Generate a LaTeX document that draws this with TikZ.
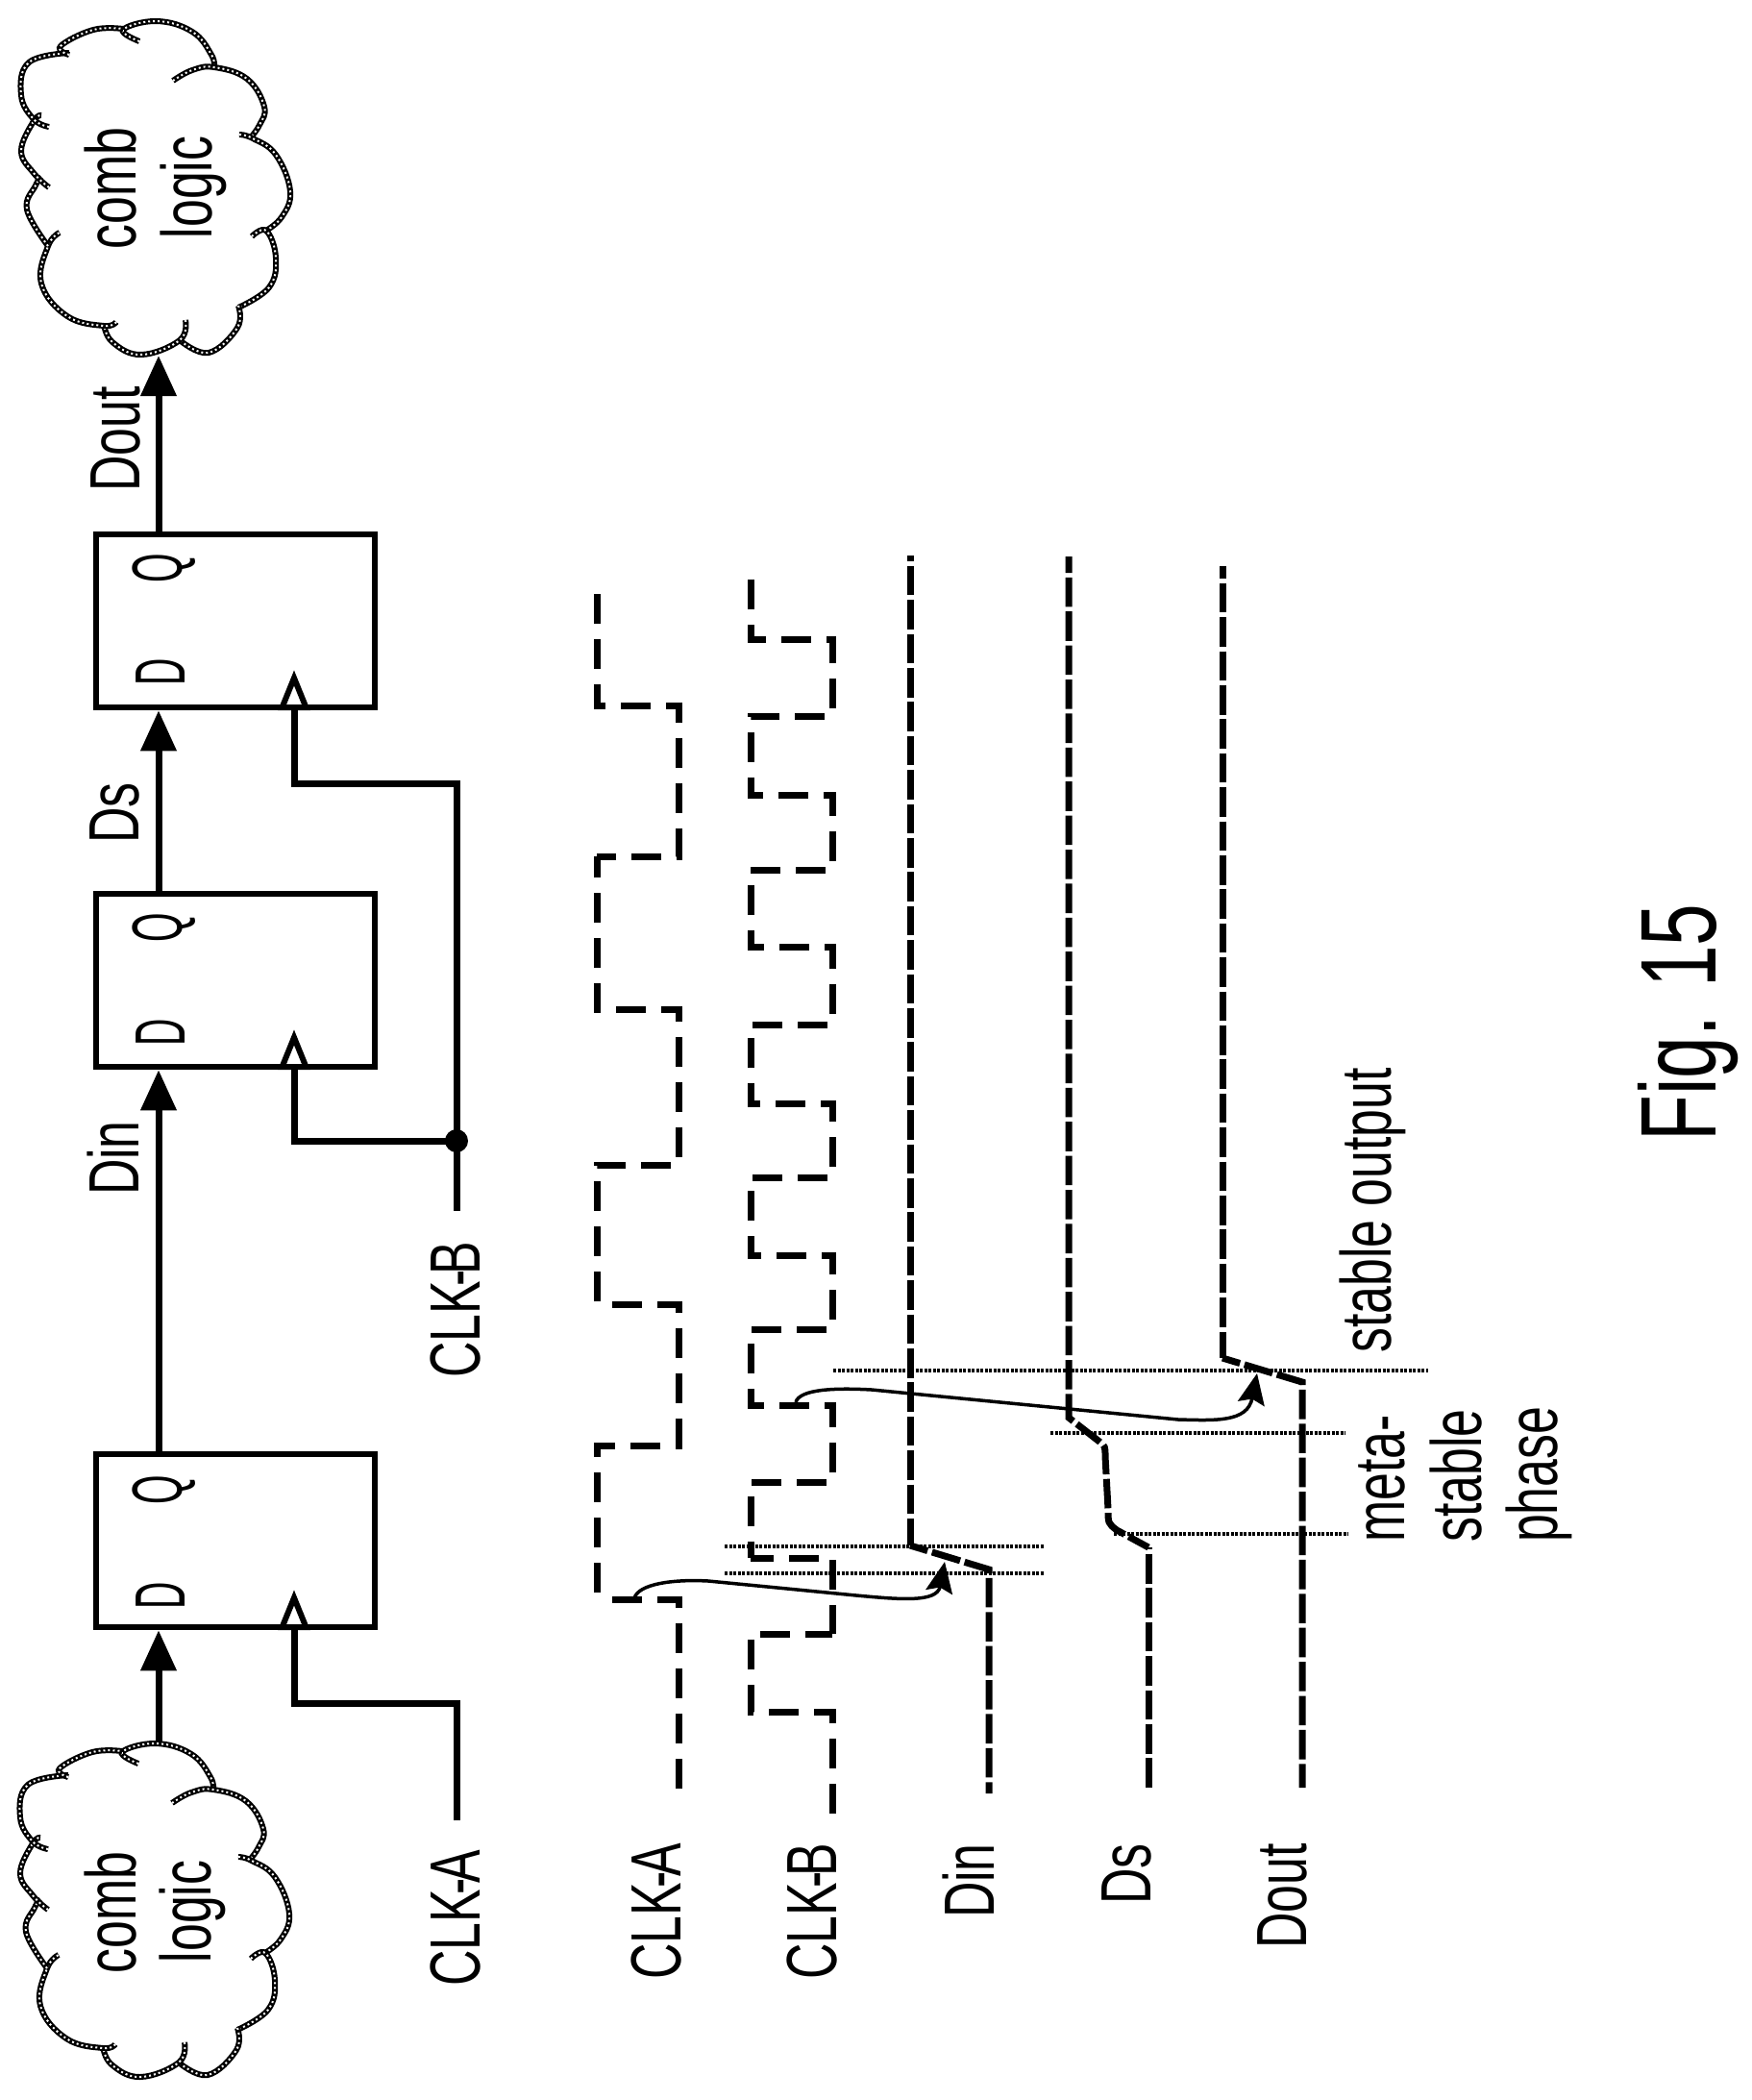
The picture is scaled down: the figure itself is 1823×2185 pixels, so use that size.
\documentclass[tikz,border=0pt]{standalone}
\usepackage{fontspec}
\setmainfont[FakeStretch=0.70]{Liberation Sans}
\newfontfamily\narrowfont[FakeStretch=0.53]{Liberation Sans}
\usetikzlibrary{arrows.meta}
\newcommand{\lblsize}{\fontsize{74}{88}\selectfont}
\newcommand{\clkname}[1]{CLK\kern-6pt-\kern-5pt #1}
\tikzset{
  ffbox/.style={draw,line width=6.5pt,minimum width=290pt,minimum height=180pt,inner sep=0pt},
  lbl/.style={rotate=90,inner sep=0pt,font=\lblsize},
  pinlbl/.style={rotate=90,inner sep=0pt,anchor=base,font=\narrowfont\lblsize},
  datawire/.style={line width=7pt,-{Triangle[length=42pt,width=36pt]}},
  clkwire/.style={line width=7pt,miter limit=10},
  clktip/.style={line width=6pt,-{Triangle[open,fill=white,length=42pt,width=32pt]}},
  clkwave/.style={line width=7pt,dash pattern=on 31pt off 16pt},
  datawave/.style={line width=7pt,dash pattern=on 30.6pt off 4.8pt},
  dotline/.style={line width=4pt,dash pattern=on 3pt off 1.5pt},
  causal/.style={line width=3.5pt,-{Stealth[length=32pt,width=28pt,inset=5pt]}},
  cloudline/.style={draw=black,line width=6pt,postaction={draw=white,line width=2pt,dash pattern=on 2pt off 3pt}}
}
\newcommand{\cloudarcs}{%
  \path[cloudline] plot[smooth,tension=0.7] coordinates {(145,43)(128,31)(163,22)(200,33)(220,57)(223,71)};
  \path[cloudline] plot[smooth,tension=0.7] coordinates {(180,84)(200,73)(223,70)(257,82)(275,111)(270,130)(260,144)};
  \path[cloudline] plot[smooth,tension=0.7] coordinates {(249,140)(263,144)(287,161)(302,199)(293,226)(275,241)};
  \path[cloudline] plot[smooth,tension=0.7] coordinates {(262,246)(277,240)(287,268)(280,299)(248,320)};
  \path[cloudline] plot[smooth,tension=0.7] coordinates {(248,318)(247,341)(217,367)(187,354)};
  \path[cloudline] plot[smooth,tension=0.7] coordinates {(193,333)(187,354)(147,369)(117,356)(108,337)};
  \path[cloudline] plot[smooth,tension=0.7] coordinates {(121,335)(108,339)(70,329)(43,295)(50,256)(62,242)};
  \path[cloudline] plot[smooth,tension=0.7] coordinates {(50,256)(28,218)(37,193)(43,184)};
  \path[cloudline] plot[smooth,tension=0.7] coordinates {(51,195)(35,180)(22,157)(35,126)(43,120)};
  \path[cloudline] plot[smooth,tension=0.7] coordinates {(51,132)(35,124)(22,99)(30,65)(72,55)};
  \path[cloudline] plot[smooth,tension=0.7] coordinates {(72,57)(63,48)(97,31)(128,30)};
}
\begin{document}
\begin{tikzpicture}[x=1pt,y=-1pt]
\useasboundingbox (0,0) rectangle (1823,2185);
% clouds
\cloudarcs
\begin{scope}[shift={(-1,1792)}]
\cloudarcs
\end{scope}
\node[lbl,anchor=base] (combT) at (141,196) {comb};
\node[lbl,anchor=base] (logicT) at (220,195) {logic};
\node[lbl,anchor=base] (combB) at (141,1990) {comb};
\node[lbl,anchor=base] (logicB) at (219,1989) {logic};
\coordinate (cloudTin) at (165,370);
\coordinate (cloudBout) at (165,1813);
% flip-flops
\node[ffbox] (ff1) at (245,646) {};
\node[ffbox] (ff2) at (245,1020) {};
\node[ffbox] (ff3) at (245,1603) {};
\coordinate (dx) at (165,0);
\coordinate (cx) at (306,0);
\coordinate (clkx) at (475,0);
\node[pinlbl] (q1) at (189,591) {Q};
\node[pinlbl] (d1) at (192,699) {D};
\node[pinlbl] (q2) at (189,965) {Q};
\node[pinlbl] (d2) at (192,1074) {D};
\node[pinlbl] (q3) at (189,1550) {Q};
\node[pinlbl] (d3) at (192,1660) {D};
% data wires
\draw[datawire] (cloudBout) -- (dx |- ff3.south);
\draw[datawire] (dx |- ff3.north) -- (dx |- ff2.south);
\draw[datawire] (dx |- ff2.north) -- (dx |- ff1.south);
\draw[datawire] (dx |- ff1.north) -- (cloudTin);
\node[lbl,anchor=base east] (ldin) at (144,1166) {Din};
\node[lbl,anchor=base east] (lds) at (144,814) {Ds};
\node[lbl,anchor=base east] (ldout) at (145,402) {Dout};
% clock wires
\node[lbl,anchor=base east] (lclka) at (499,1925) {\clkname{A}};
\node[lbl,anchor=base east] (lclkb) at (499,1292) {\clkname{B}};
\coordinate (ca) at (475,1894);
\coordinate (cb) at (475,1260);
\coordinate (j1) at (475,1187);
\coordinate (b1) at (306,815);
\coordinate (b2) at (306,1187);
\coordinate (b3) at (306,1772);
\coordinate (tip1) at (306,697);
\coordinate (tip2) at (306,1071);
\coordinate (tip3) at (306,1654);
\draw[clkwire] (ca) -- (clkx |- b3) -- (b3) -- (cx |- ff3.south);
\draw[clkwire] (cb) -- (clkx |- b1) -- (b1) -- (cx |- ff1.south);
\draw[clkwire] (j1) -- (b2) -- (cx |- ff2.south);
\draw[clktip] (cx |- ff1.south) -- (tip1);
\draw[clktip] (cx |- ff2.south) -- (tip2);
\draw[clktip] (cx |- ff3.south) -- (tip3);
\fill (j1) circle (12pt);
% waveforms
\draw[clkwave] (621,618) -- (621,734) -- (706,734) -- (706,891) -- (621,891);
\draw[clkwave,dash phase=9pt] (621,891) -- (621,1050) -- (706,1050) -- (706,1212) -- (621,1212) -- (621,1357);
\draw[clkwave,dash phase=31pt] (621,1357) -- (706,1357) -- (706,1504) -- (621,1504) -- (621,1664);
\draw[clkwave,dash phase=31pt] (621,1664) -- (706,1664) -- (706,1861);
\draw[clkwave] (781,603) -- (781,665) -- (866,665) -- (866,745) -- (781,745) -- (781,827) -- (866,827) -- (866,905) -- (781,905) -- (781,985) -- (866,985) -- (866,1066) -- (781,1066) -- (781,1148) -- (866,1148) -- (866,1225) -- (781,1225) -- (781,1306) -- (866,1306) -- (866,1383) -- (781,1383) -- (781,1462) -- (866,1462) -- (866,1542) -- (781,1542) -- (781,1621);
\draw[clkwave,dash phase=7pt] (781,1621) -- (866,1621) -- (866,1700);
\draw[clkwave,dash phase=3pt] (866,1700) -- (781,1700) -- (781,1781) -- (866,1781) -- (866,1887);
\draw[datawave,dash phase=24.6pt] (947,578) -- (947,1608);
\draw[datawave,dash phase=11.6pt] (947,1608) -- (1029,1633) -- (1029,1866);
\draw[datawave,dash phase=13.6pt] (1112,579) -- (1112,1475) -- (1144,1500) .. controls (1150,1505) .. (1150,1515) -- (1153,1570) .. controls (1153,1585) .. (1162,1592) -- (1195,1610);
\draw[datawave,dash phase=28.4pt] (1195,1610) -- (1195,1860);
\draw[datawave,dash phase=17.6pt] (1272,589) -- (1272,1413);
\draw[datawave,dash phase=11.6pt] (1272,1413) -- (1355,1438) -- (1355,1860);
% dotted guide lines
\coordinate (g1a) at (867,1426); \coordinate (g1b) at (1486,1426);
\coordinate (g2a) at (1093,1491); \coordinate (g2b) at (1400,1491);
\coordinate (g3a) at (1159,1596); \coordinate (g3b) at (1403,1596);
\coordinate (g4a) at (754,1609); \coordinate (g4b) at (1086,1609);
\coordinate (g5a) at (754,1637); \coordinate (g5b) at (1086,1637);
\draw[dotline] (g1a) -- (g1b);
\draw[dotline] (g2a) -- (g2b);
\draw[dotline] (g3a) -- (g3b);
\draw[dotline] (g4a) -- (g4b);
\draw[dotline] (g5a) -- (g5b);
% causal curves
\coordinate (c1s) at (660,1663); \coordinate (c1e) at (983,1625);
\coordinate (c2s) at (828,1459); \coordinate (c2e) at (1308,1429);
\draw[causal] (c1s) .. controls (664,1648) and (700,1643) .. (737,1645) -- (891,1660) .. controls (935,1664) and (975,1668) .. (c1e);
\draw[causal] (c2s) .. controls (832,1445) and (870,1444) .. (907,1446) -- (1226,1477) .. controls (1265,1478) and (1298,1480) .. (c2e);
% waveform labels
\node[lbl,anchor=base east] (wa) at (708,1918) {\clkname{A}};
\node[lbl,anchor=base east] (wb) at (870,1918) {\clkname{B}};
\node[lbl,anchor=base east] (wd) at (1034,1918) {Din};
\node[lbl,anchor=base east] (ws) at (1197,1918) {Ds};
\node[lbl,anchor=base east] (wo) at (1359,1918) {Dout};
\node[lbl,anchor=base west] (st) at (1447,1408) {stable output};
\node[lbl,anchor=base west] (m1) at (1461,1605) {meta-};
\node[lbl,anchor=base west] (m2) at (1541,1605) {stable};
\node[lbl,anchor=base west] (m3) at (1620,1605) {phase};
\node[rotate=90,inner sep=0pt,anchor=base,font=\fontsize{112}{130}\selectfont] (fig) at (1785,1064) {Fig. 15};
\end{tikzpicture}
\end{document}
